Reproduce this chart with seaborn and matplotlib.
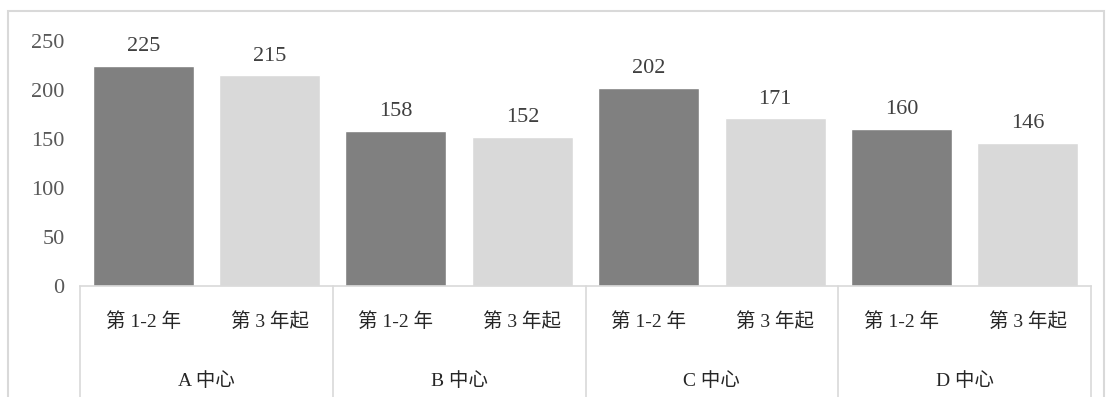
import pandas as pd
import seaborn as sns
import matplotlib.pyplot as plt
from matplotlib.patches import Rectangle
from matplotlib.transforms import blended_transform_factory

centers = ['A 中心', 'B 中心', 'C 中心', 'D 中心']
periods = ['第 1-2 年', '第 3 年起']
first_years = [225, 158, 202, 160]
later_years = [215, 152, 171, 146]
y_ticks = [0, 50, 100, 150, 200, 250]

rows = []
for i, c in enumerate(centers):
    rows.append({'slot': f'{c}|{periods[0]}', 'center': c, 'period': periods[0], 'value': first_years[i]})
    rows.append({'slot': f'{c}|{periods[1]}', 'center': c, 'period': periods[1], 'value': later_years[i]})
df = pd.DataFrame(rows)

sns.set_style('white')
plt.rcParams['font.family'] = ['Liberation Serif', 'Noto Sans CJK SC']

fig = plt.figure(figsize=(11.06, 3.97), dpi=100)
ax = fig.add_axes([80 / 1106, 1 - 286 / 397, (1091 - 80) / 1106, 245 / 397])

sns.barplot(data=df, x='slot', y='value', hue='period', dodge=False, width=0.8,
            palette={periods[0]: '#808080', periods[1]: '#d9d9d9'}, ax=ax,
            legend=False, saturation=1)

for cont in ax.containers:
    ax.bar_label(cont, fontsize=16, color='#404040', padding=7)

ax.set_ylim(0, 250)
ax.set_xlim(-0.5, len(df) - 0.5)
ax.set_yticks(y_ticks)
ax.set_yticklabels([str(t) for t in y_ticks], fontsize=16, color='#595959')
ax.tick_params(axis='y', length=0, pad=11)
ax.set_xticks([])
ax.set_xlabel('')
ax.set_ylabel('')
for s in ['top', 'right', 'left']:
    ax.spines[s].set_visible(False)
ax.spines['bottom'].set_color('#d9d9d9')
ax.spines['bottom'].set_linewidth(1.2)

trans = blended_transform_factory(ax.transData, ax.transAxes)
for k in range(len(centers) + 1):
    ax.plot([2 * k - 0.5, 2 * k - 0.5], [0, -0.6], transform=trans, color='#d9d9d9',
            lw=1.2, clip_on=False)
for i, row in df.iterrows():
    ax.text(i, -36 / 245, row['period'], transform=trans, ha='center', va='center',
            fontsize=14, color='#262626')
for k, c in enumerate(centers):
    ax.text(2 * k + 0.5, -95 / 245, c, transform=trans, ha='center', va='center',
            fontsize=14, color='#262626')

fig.patches.append(Rectangle((8 / 1106, -0.1), (1104 - 8) / 1106, 1.1 - 11 / 397,
                             transform=fig.transFigure, fill=False, edgecolor='#d9d9d9', lw=1.5))

fig.savefig('out.png', dpi=100)
